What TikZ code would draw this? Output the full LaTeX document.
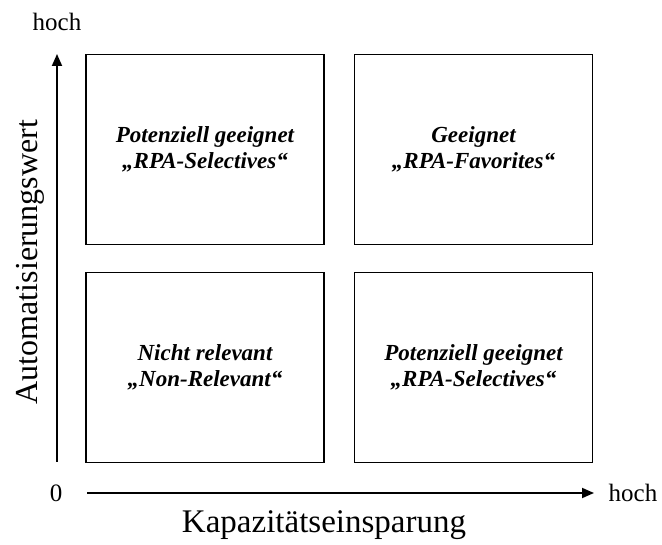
\documentclass[tikz,border=0pt]{standalone}
\usepackage{fontspec}
\setmainfont{Liberation Serif}
\usetikzlibrary{arrows.meta}
\begin{document}
\begin{tikzpicture}[x=1pt,y=-1pt,
  quad/.style={draw,line width=1.8pt,minimum width=238pt,minimum height=190pt,inner sep=0pt,align=center,
    font=\fontsize{23}{26}\selectfont\bfseries\itshape},
  axis/.style={line width=1.8pt,-{Triangle[length=12pt,width=10pt]}},
  small/.style={font=\fontsize{25}{28}\selectfont},
  big/.style={font=\fontsize{32}{36}\selectfont}]
\useasboundingbox (0,0) rectangle (662,545);
\node[quad] (tl) at (205,149.5) {Potenziell geeignet\\„RPA-Selectives“};
\node[quad] (tr) at (473.5,149.5) {Geeignet\\„RPA-Favorites“};
\node[quad] (bl) at (205,367.5) {Nicht relevant\\„Non-Relevant“};
\node[quad] (br) at (473.5,367.5) {Potenziell geeignet\\„RPA-Selectives“};
\coordinate (ystart) at (57,462);
\coordinate (yend) at (57,54);
\coordinate (xstart) at (87,493);
\coordinate (xend) at (594,493);
\draw[axis] (ystart) -- (yend);
\draw[axis] (xstart) -- (xend);
\node[small] (ytop) at (57,22) {hoch};
\node[small] (xright) at (633,493) {hoch};
\node[small] (zero) at (56,493) {0};
\node[big,rotate=90] (ylab) at (30,262) {Automatisierungswert};
\node[font=\fontsize{33}{36}\selectfont] (xlab) at (324,525) {Kapazitätseinsparung};
\end{tikzpicture}
\end{document}
